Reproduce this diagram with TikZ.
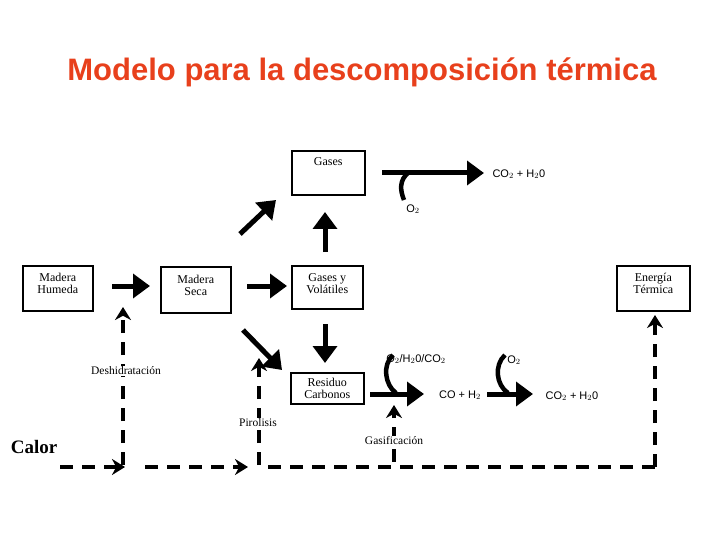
\documentclass[tikz,border=0pt]{standalone}
\usepackage{fontspec}
\setmainfont{Liberation Serif}
\newfontfamily\ttl{Liberation Sans}
\usetikzlibrary{arrows.meta}
\definecolor{ttlc}{HTML}{E8401C}
\begin{document}
\begin{tikzpicture}[x=1pt,y=-1pt,
  box/.style={draw,line width=1.6pt,inner sep=0pt,font=\fontsize{12}{12}\selectfont,align=center},
  bt/.style={font=\fontsize{12}{12}\selectfont,align=center,anchor=north},
  big/.style={line width=5pt,-{Triangle[length=17pt,width=23pt,angle'=70]}},
  hook/.style={line width=4.5pt},
  dsh/.style={line width=3.2pt,dash pattern=on 13pt off 9pt},
  darr/.style={dsh,-{Stealth[length=13pt,width=16pt]}},
  chem/.style={font=\ttl\fontsize{11}{11}\selectfont},
  lab/.style={font=\fontsize{11.5}{12}\selectfont}]
\useasboundingbox (0,0) rectangle (720,540);
\node[font=\ttl\bfseries\fontsize{31}{31}\selectfont,text=ttlc] (t) at (362,72) {Modelo para la descomposición térmica};
\node[box,minimum width=70pt,minimum height=45pt,anchor=north west] (mh) at (22,265) {};
\node[bt] at (mh.north) [yshift=-5pt] {Madera\\Humeda};
\node[box,minimum width=70pt,minimum height=46pt,anchor=north west] (ms) at (160,266) {};
\node[bt] at (ms.north) [yshift=-6pt] {Madera\\Seca};
\node[box,minimum width=73pt,minimum height=44pt,anchor=north west] (ga) at (291,150) {};
\node[bt] at (ga.north) [yshift=-4pt] {Gases};
\node[box,minimum width=71pt,minimum height=43pt,anchor=north west] (gv) at (291,265) {};
\node[bt] at (gv.north) [yshift=-5pt] {Gases y\\Volátiles};
\node[box,minimum width=73pt,minimum height=31pt,anchor=north west] (rc) at (290,372) {Residuo\\Carbonos};
\node[box,minimum width=73pt,minimum height=45pt,anchor=north west] (et) at (616,265) {};
\node[bt] at (et.north) [yshift=-5pt] {Energía\\Térmica};

\coordinate (a1s) at (112,286); \coordinate (a1e) at (150,286);
\draw[big] (a1s) -- (a1e);
\coordinate (a2s) at (247,286); \coordinate (a2e) at (287,286);
\draw[big] (a2s) -- (a2e);
\coordinate (a3s) at (240,234); \coordinate (a3e) at (276,200);
\draw[big] (a3s) -- (a3e);
\coordinate (a4s) at (325,252); \coordinate (a4e) at (325,212);
\draw[big] (a4s) -- (a4e);
\coordinate (a5s) at (243,330); \coordinate (a5e) at (282,370);
\draw[big] (a5s) -- (a5e);
\coordinate (a6s) at (325,324); \coordinate (a6e) at (325,363);
\draw[big] (a6s) -- (a6e);

% top gases reaction
\coordinate (g1) at (382,173); \coordinate (g2) at (484,173);
\draw[big] (g1) -- (g2);
\draw[hook] (409,172) .. controls (399,180) and (400,190) .. (404,200);
\node[chem,anchor=west] (cw1) at (489,174) {CO$_2$ + H$_2$0};
\node[chem] (o1) at (413,209) {O$_2$};

% bottom reactions
\coordinate (r1) at (370,394); \coordinate (r2) at (424,394);
\draw[big] (r1) -- (r2);
\draw[hook] (393,355) .. controls (382,365) and (385,385) .. (396,393);
\node[chem] (o2) at (416,359) {O$_2$/H$_2$0/CO$_2$};
\node[chem] (co) at (460,395) {CO + H$_2$};
\coordinate (r3) at (487,394); \coordinate (r4) at (533,394);
\draw[big] (r3) -- (r4);
\draw[hook] (505,355) .. controls (494,365) and (496,385) .. (508,393);
\node[chem] (o3) at (514,360) {O$_2$};
\node[chem] (cw2) at (572,396) {CO$_2$ + H$_2$0};

% calor
\node[font=\bfseries\fontsize{19}{19}\selectfont] (cal) at (34,447) {Calor};
\coordinate (h0) at (60,467); \coordinate (h1) at (125,467);
\coordinate (h2) at (145,467); \coordinate (h3) at (248,467);
\coordinate (h4) at (268,467); \coordinate (h5) at (655,467);
\draw[darr] (h0) -- (h1);
\draw[darr] (h2) -- (h3);
\draw[dsh] (h4) -- (h5);
\draw[darr] (h5) -- (655,315);
\draw[darr] (123,465) -- (123,307);
\node[lab,fill=white,inner sep=1pt] (dh) at (126,371) {Deshidratación};
\draw[darr] (259,465) -- (259,358);
\node[lab,fill=white,inner sep=1pt] (pi) at (258,423) {Pirolisis};
\draw[darr] (394,462) -- (394,405);
\node[lab,fill=white,inner sep=1pt] (gs) at (394,441) {Gasificación};
\end{tikzpicture}
\end{document}
